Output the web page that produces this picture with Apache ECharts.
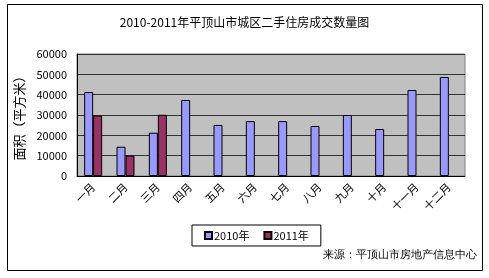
<!DOCTYPE html>
<html>
<head>
<meta charset="utf-8">
<script src="https://cdn.jsdelivr.net/npm/echarts@6/dist/echarts.min.js"></script>
<style>
  html, body { margin: 0; padding: 0; background: #fff; }
  #main { width: 489px; height: 278px; }
</style>
</head>
<body>
<div id="main"></div>
<script>
var months = ['一月', '二月', '三月', '四月', '五月', '六月', '七月', '八月', '九月', '十月', '十一月', '十二月'];
var data2010 = [41300, 14400, 21300, 37400, 25100, 27000, 27000, 24600, 30000, 23100, 42300, 48700];
var data2011 = [29700, 10000, 30100];
var yTicks = [0, 10000, 20000, 30000, 40000, 50000, 60000];

var chart = echarts.init(document.getElementById('main'));
var font = '"Noto Sans CJK SC", "DejaVu Sans", sans-serif';

var option = {
  backgroundColor: '#fff',
  animation: false,
  title: {
    text: '2010-2011年平顶山市城区二手住房成交数量图',
    left: 'center',
    top: 11,
    textStyle: { fontSize: 12, fontWeight: 'normal', color: '#000', fontFamily: font }
  },
  legend: {
    left: 192,
    top: 225,
    width: 117,
    itemWidth: 7,
    itemHeight: 7,
    itemGap: 14,
    padding: [5, 12, 5, 12],
    borderColor: '#000',
    borderWidth: 1,
    icon: 'rect',
    textStyle: { fontSize: 11, color: '#000', fontFamily: font, padding: [0, 0, 0, -3] },
    data: ['2010年', '2011年']
  },
  grid: {
    left: 77, right: 24, top: 54, bottom: 102,
    show: true,
    backgroundColor: '#c0c0c0',
    borderColor: '#808080',
    borderWidth: 1
  },
  xAxis: {
    type: 'category',
    data: months,
    axisLine: { lineStyle: { color: '#000' } },
    axisTick: { lineStyle: { color: '#000' }, length: 3 },
    axisLabel: { rotate: 45, fontSize: 11, color: '#000', fontFamily: font, margin: 9 }
  },
  yAxis: {
    type: 'value',
    min: yTicks[0], max: yTicks[yTicks.length - 1], interval: yTicks[1] - yTicks[0],
    name: '面积（平方米）',
    nameLocation: 'middle',
    nameGap: 46,
    nameRotate: 90,
    nameTextStyle: { fontSize: 13, color: '#000', fontFamily: font },
    axisLine: { show: true, lineStyle: { color: '#000' } },
    axisTick: { show: false },
    axisLabel: {
      fontSize: 11, color: '#000', fontFamily: font, margin: 10,
      formatter: function (v) { return String(v); }
    },
    splitLine: { lineStyle: { color: '#333', width: 1 } }
  },
  series: [
    {
      name: '2010年', type: 'bar', data: data2010,
      barWidth: 9, barGap: '0%',
      itemStyle: { color: '#9999ff', borderColor: '#000', borderWidth: 1 }
    },
    {
      name: '2011年', type: 'bar', data: data2011,
      barWidth: 9,
      itemStyle: { color: '#993366', borderColor: '#000', borderWidth: 1 }
    }
  ],
  graphic: [
    {
      type: 'rect',
      shape: { x: 7.5, y: 4.5, width: 475, height: 266 },
      style: { fill: null, stroke: '#000', lineWidth: 1 },
      silent: true
    },
    {
      type: 'text',
      right: 12,
      top: 249,
      style: { text: '来源：平顶山市房地产信息中心', fontSize: 11, fill: '#000', font: '11px ' + font }
    }
  ]
};

chart.setOption(option);
</script>
</body>
</html>
